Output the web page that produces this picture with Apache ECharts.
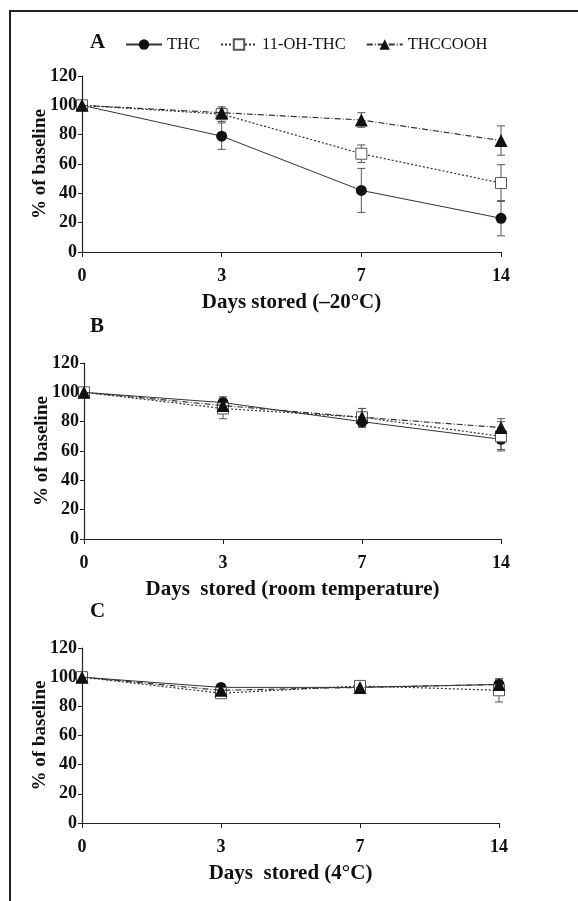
<!DOCTYPE html>
<html>
<head>
<meta charset="utf-8">
<script src="https://cdn.jsdelivr.net/npm/echarts@6.0.0/dist/echarts.min.js"></script>
<style>
  html, body { margin: 0; padding: 0; background: #fff; }
  #main { width: 578px; height: 901px; }
</style>
</head>
<body>
<div id="main"></div>
<script>
// 数据
var days = ['0', '3', '7', '14'];
var seriesNames = ['THC', '11-OH-THC', 'THCCOOH'];

// A: -20°C
var thcA = [100, 79, 42, 23];
var thcSdA = [0, 9, 15, 12];
var ohA = [100, 94, 67, 47];
var ohSdA = [0, 5, 6, 12.5];
var coohA = [100, 95, 90, 76];
var coohSdA = [0, 3, 5, 10];

// B: room temperature
var thcB = [100, 93, 80, 68];
var thcSdB = [0, 4, 4, 7];
var ohB = [100, 89, 83, 70];
var ohSdB = [0, 7, 6, 10];
var coohB = [100, 91, 83, 76];
var coohSdB = [0, 4, 6, 6];

// C: 4°C
var thcC = [100, 93, 93, 95];
var thcSdC = [0, 2, 2, 3];
var ohC = [100, 89, 94, 91];
var ohSdC = [0, 2, 3, 8];
var coohC = [100, 91, 93, 95];
var coohSdC = [0, 2, 3, 3];

var serif = '"Liberation Serif", "Times New Roman", serif';

var myChart = echarts.init(document.getElementById('main'));

var panels = [
  { letter: 'A', name: 'Days stored (\u201320\u00b0C)', grid: { left: 82, top: 76, width: 419, height: 176 },
    data: [[thcA, thcSdA], [ohA, ohSdA], [coohA, coohSdA]] },
  { letter: 'B', name: 'Days  stored (room temperature)', grid: { left: 84, top: 363, width: 417, height: 176 },
    data: [[thcB, thcSdB], [ohB, ohSdB], [coohB, coohSdB]] },
  { letter: 'C', name: 'Days  stored (4\u00b0C)', grid: { left: 82, top: 648, width: 417, height: 175 },
    data: [[thcC, thcSdC], [ohC, ohSdC], [coohC, coohSdC]] }
];

// 线型 / 标记
var styles = [
  { symbol: 'circle', symbolSize: 11, itemStyle: { color: '#111' },
    lineStyle: { color: '#333', width: 1, type: 'solid' } },
  { symbol: 'rect', symbolSize: 11, itemStyle: { color: '#fff', borderColor: '#555', borderWidth: 1 },
    lineStyle: { color: '#333', width: 1.2, type: [2, 2] } },
  { symbol: 'triangle', symbolSize: 13, itemStyle: { color: '#111' },
    lineStyle: { color: '#333', width: 1.2, type: [6, 2, 1, 2] } }
];

function errRender (params, api) { // 误差线
  var x = api.value(0), m = api.value(1), s = api.value(2);
  if (!s) return;
  var top = api.coord([x, m + s]);
  var bot = api.coord([x, m - s]);
  var w = 4;
  var st = { stroke: '#555', lineWidth: 1 };
  return {
    type: 'group',
    children: [
      { type: 'line', shape: { x1: top[0], y1: top[1], x2: bot[0], y2: bot[1] }, style: st },
      { type: 'line', shape: { x1: top[0] - w, y1: top[1], x2: top[0] + w, y2: top[1] }, style: st },
      { type: 'line', shape: { x1: bot[0] - w, y1: bot[1], x2: bot[0] + w, y2: bot[1] }, style: st }
    ]
  };
}

var grids = [], xAxes = [], yAxes = [], series = [], graphics = [];

panels.forEach(function (p, i) {
  grids.push(p.grid);
  xAxes.push({
    type: 'category', gridIndex: i, data: days, boundaryGap: false,
    name: p.name, nameLocation: 'middle', nameGap: 40,
    nameTextStyle: { fontFamily: serif, fontWeight: 'bold', fontSize: 21, color: '#111' },
    axisLine: { lineStyle: { color: '#222', width: 1.2 } },
    axisTick: { show: true, length: 5, alignWithLabel: true, lineStyle: { color: '#222' } },
    axisLabel: { fontFamily: serif, fontWeight: 'bold', fontSize: 18, color: '#111', margin: 15 },
    splitLine: { show: false }
  });
  yAxes.push({
    type: 'value', gridIndex: i, min: 0, max: 120, interval: 20,
    name: '% of baseline', nameLocation: 'middle', nameGap: 32, nameMoveOverlap: false,
    nameTextStyle: { fontFamily: serif, fontWeight: 'bold', fontSize: 19, color: '#111' },
    axisLine: { show: true, lineStyle: { color: '#222', width: 1.2 } },
    axisTick: { show: true, length: 4, lineStyle: { color: '#222' } },
    axisLabel: { fontFamily: serif, fontWeight: 'bold', fontSize: 18, color: '#111', margin: 5 },
    splitLine: { show: false }
  });
  p.data.forEach(function (d) {
    series.push({
      type: 'custom', xAxisIndex: i, yAxisIndex: i, z: 1, silent: true,
      renderItem: errRender,
      data: d[0].map(function (v, j) { return [j, v, d[1][j]]; }),
      encode: { x: 0, y: 1 }
    });
  });
  p.data.forEach(function (d, k) {
    var s = styles[k];
    series.push({
      name: seriesNames[k], type: 'line', xAxisIndex: i, yAxisIndex: i, z: 2 + k,
      data: d[0], symbol: s.symbol, symbolSize: s.symbolSize,
      itemStyle: s.itemStyle, lineStyle: s.lineStyle, showSymbol: true
    });
  });
});

var letterY = [43, 327, 612];
panels.forEach(function (p, i) {
  graphics.push({
    type: 'text', left: 90, top: letterY[i] - 11,
    style: { text: p.letter, font: 'bold 21px ' + serif, fill: '#111' }
  });
});
// 外框
graphics.push({ type: 'line', shape: { x1: 9, y1: 11, x2: 578, y2: 11 }, style: { stroke: '#222', lineWidth: 2 } });
graphics.push({ type: 'line', shape: { x1: 10, y1: 10, x2: 10, y2: 901 }, style: { stroke: '#222', lineWidth: 2 } });

var option = {
  backgroundColor: '#fff',
  animation: false,
  legend: {
    data: seriesNames, left: 125, top: 36, padding: 0,
    itemWidth: 36, itemHeight: 13, itemGap: 20,
    textStyle: { fontFamily: serif, fontSize: 16.5, color: '#111' }
  },
  grid: grids,
  xAxis: xAxes,
  yAxis: yAxes,
  series: series,
  graphic: graphics
};

myChart.setOption(option);
</script>
</body>
</html>
